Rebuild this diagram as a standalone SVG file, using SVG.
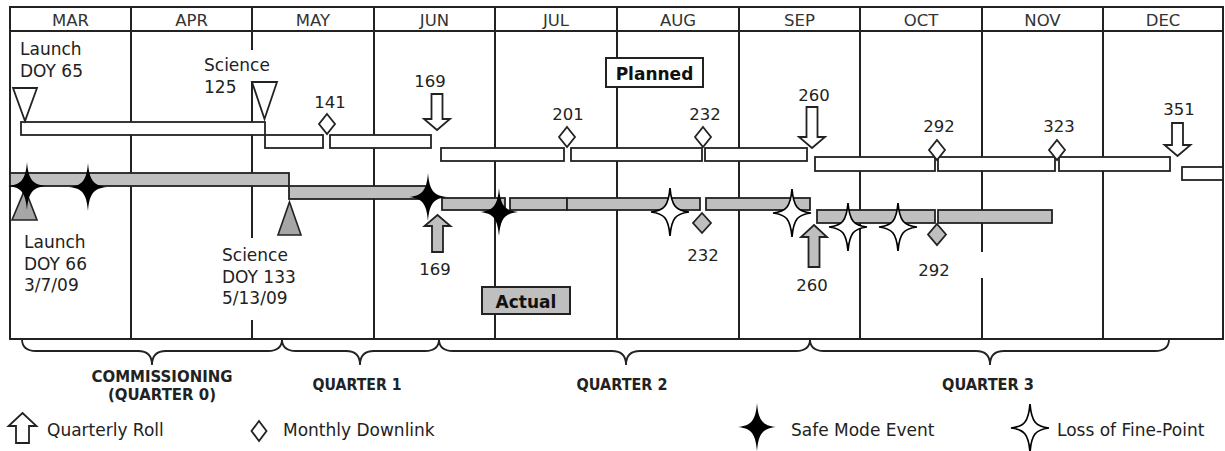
<svg xmlns="http://www.w3.org/2000/svg" width="1225" height="451" viewBox="0 0 1225 451">
<defs>
<style>
text{font-family:"DejaVu Sans",Verdana,sans-serif;fill:#222}
.m{font-size:16.5px;text-anchor:middle;fill:#333}
.t{font-size:17px}
.n{font-size:16.5px;text-anchor:middle}
.b{font-weight:bold;font-size:17px;text-anchor:middle;fill:#111}
.q{font-weight:bold;font-size:16px;text-anchor:middle;fill:#222}
.grid{stroke:#222;stroke-width:2;fill:none}
.pb{fill:#fff;stroke:#222;stroke-width:1.8}
.ab{fill:#bfbfbf;stroke:#222;stroke-width:1.8}
.tri{fill:#a6a6a6;stroke:#222;stroke-width:1.6}
.ptri{fill:#fff;stroke:#222;stroke-width:1.8}
.brace{fill:none;stroke:#222;stroke-width:1.8}
.blk{fill:#000}
.wht{fill:#fff;stroke:#000;stroke-width:1.7}
</style>
<path id="star" d="M0,-24 C1.5,-6 6,-1.5 19,0 C6,1.5 1.5,6 0,24 C-1.5,6 -6,1.5 -19,0 C-6,-1.5 -1.5,-6 0,-24Z"/>
</defs>
<rect width="1225" height="451" fill="#fff"/>

<g id="grid" class="grid">
<rect x="10" y="7" width="1213" height="332"/>
<line x1="10" y1="31" x2="1223" y2="31"/>
<line x1="131" y1="7" x2="131" y2="339"/>
<line x1="252" y1="7" x2="252" y2="50"/>
<line x1="252" y1="82" x2="252" y2="238"/>
<line x1="252" y1="320" x2="252" y2="339"/>
<line x1="374" y1="7" x2="374" y2="339"/>
<line x1="495" y1="7" x2="495" y2="339"/>
<line x1="617" y1="7" x2="617" y2="339"/>
<line x1="739" y1="7" x2="739" y2="339"/>
<line x1="860" y1="7" x2="860" y2="339"/>
<line x1="982" y1="7" x2="982" y2="252"/>
<line x1="982" y1="278" x2="982" y2="339"/>
<line x1="1103" y1="7" x2="1103" y2="339"/>
</g>

<g id="months">
<text class="m" x="70.5" y="26">MAR</text>
<text class="m" x="191.5" y="26">APR</text>
<text class="m" x="313" y="26">MAY</text>
<text class="m" x="434.5" y="26">JUN</text>
<text class="m" x="556" y="26">JUL</text>
<text class="m" x="678" y="26">AUG</text>
<text class="m" x="799.5" y="26">SEP</text>
<text class="m" x="921" y="26">OCT</text>
<text class="m" x="1042.5" y="26">NOV</text>
<text class="m" x="1163" y="26">DEC</text>
</g>

<g id="planned-bars">
<rect class="pb" x="21" y="122" width="244" height="13"/>
<rect class="pb" x="265" y="135" width="58" height="13"/>
<rect class="pb" x="330" y="135" width="101" height="13"/>
<rect class="pb" x="441" y="148" width="123" height="13"/>
<rect class="pb" x="571" y="148" width="131" height="13"/>
<rect class="pb" x="705" y="148" width="102" height="13"/>
<rect class="pb" x="815" y="157" width="120" height="14"/>
<rect class="pb" x="938" y="157" width="117" height="14"/>
<rect class="pb" x="1059" y="157" width="111" height="14"/>
<rect class="pb" x="1182" y="167" width="41" height="13"/>
</g>

<g id="planned-launch">
<polygon class="ptri" points="13,88 37,88 25,121"/>
<text class="t" x="20" y="55">Launch</text>
<text class="t" x="20" y="77">DOY 65</text>
</g>
<g id="planned-science">
<polygon class="ptri" points="252,82 277,82 264.5,119"/>
<text class="t" x="204" y="71">Science</text>
<text class="t" x="204" y="93">125</text>
</g>

<g id="planned-downlinks">
<polygon class="ptri" points="327,114 335,124 327,134 319,124"/>
<text class="n" x="330" y="108">141</text>
<polygon class="ptri" points="567,127 575,137 567,147 559,137"/>
<text class="n" x="568" y="120">201</text>
<polygon class="ptri" points="703,127 711,137 703,147 695,137"/>
<text class="n" x="705" y="120">232</text>
<polygon class="ptri" points="937,140 945,150 937,160 929,150"/>
<text class="n" x="939" y="132">292</text>
<polygon class="ptri" points="1057,140 1065,150 1057,160 1049,150"/>
<text class="n" x="1059" y="132">323</text>
</g>

<g id="planned-rolls">
<polygon class="ptri" points="431.5,94 442.5,94 442.5,119 450,119 437,130 424,119 431.5,119"/>
<text class="n" x="430" y="87">169</text>
<polygon class="ptri" points="806.5,107 817.5,107 817.5,137 825,137 812,148 799,137 806.5,137"/>
<text class="n" x="814" y="101">260</text>
<polygon class="ptri" points="1172,123 1183,123 1183,145 1190.5,145 1177.5,156 1164.5,145 1172,145"/>
<text class="n" x="1179" y="115">351</text>
</g>

<g id="planned-label">
<rect x="606" y="58" width="97" height="29" fill="#fff" stroke="#222" stroke-width="2"/>
<text class="b" x="654.5" y="80">Planned</text>
</g>

<g id="actual-bars">
<rect class="ab" x="10" y="173" width="279" height="13"/>
<rect class="ab" x="289" y="186" width="139" height="13"/>
<rect class="ab" x="442" y="198" width="63" height="12"/>
<rect class="ab" x="510" y="198" width="57" height="12"/>
<rect class="ab" x="567" y="198" width="133" height="12"/>
<rect class="ab" x="706" y="198" width="104" height="12"/>
<rect class="ab" x="817" y="210" width="118" height="13"/>
<rect class="ab" x="938" y="210" width="114" height="13"/>
</g>

<g id="actual-launch">
<polygon class="tri" points="25,189 37,220 12,220"/>
<text class="t" x="24" y="248">Launch</text>
<text class="t" x="24" y="270">DOY 66</text>
<text class="t" x="24" y="291">3/7/09</text>
</g>
<g id="actual-science">
<polygon class="tri" points="289.5,202 301,235 278,235"/>
<text class="t" x="222" y="261">Science</text>
<text class="t" x="222" y="283">DOY 133</text>
<text class="t" x="222" y="304">5/13/09</text>
</g>

<g id="actual-rolls">
<polygon class="ab" points="437.5,215 450.5,226 443,226 443,252 432,252 432,226 424.5,226"/>
<text class="n" x="435" y="275">169</text>
<polygon class="ab" points="814,225 827,237 819.5,237 819.5,267 808.5,267 808.5,237 801,237"/>
<text class="n" x="812" y="291">260</text>
</g>

<g id="actual-downlinks">
<polygon class="ab" points="702,213 711,223 702,233 693,223"/>
<text class="n" x="703" y="261">232</text>
<polygon class="ab" points="937,224 946,234.5 937,245 928,234.5"/>
<text class="n" x="934" y="276">292</text>
</g>

<g id="safe-mode-events">
<use href="#star" class="blk" x="27" y="186"/>
<use href="#star" class="blk" x="88" y="187"/>
<use href="#star" class="blk" x="428" y="197"/>
<use href="#star" class="blk" x="499" y="212"/>
</g>
<g id="fine-point-losses">
<use href="#star" class="wht" x="670" y="212"/>
<use href="#star" class="wht" x="792" y="213"/>
<use href="#star" class="wht" x="848" y="227"/>
<use href="#star" class="wht" x="898" y="227"/>
</g>

<g id="actual-label">
<rect x="482" y="287" width="88" height="27" fill="#bfbfbf" stroke="#222" stroke-width="2"/>
<text class="b" x="526" y="308">Actual</text>
</g>

<g id="braces" class="brace">
<path d="M22,339 Q22,351 36,351 L138,351 Q152,351 152,365 Q152,351 166,351 L268,351 Q282,351 282,339"/>
<path d="M282,339 Q282,351 296,351 L346,351 Q360,351 360,365 Q360,351 374,351 L425,351 Q439,351 439,339"/>
<path d="M439,339 Q439,351 453,351 L612,351 Q626,351 626,365 Q626,351 640,351 L796,351 Q810,351 810,339"/>
<path d="M810,339 Q810,351 824,351 L976,351 Q990,351 990,365 Q990,351 1004,351 L1155,351 Q1169,351 1169,339"/>
</g>

<g id="quarters">
<text class="q" x="162" y="382" textLength="141" lengthAdjust="spacingAndGlyphs">COMMISSIONING</text>
<text class="q" x="162" y="400" textLength="108" lengthAdjust="spacingAndGlyphs">(QUARTER 0)</text>
<text class="q" x="357" y="390" textLength="89" lengthAdjust="spacingAndGlyphs">QUARTER 1</text>
<text class="q" x="622" y="390" textLength="91" lengthAdjust="spacingAndGlyphs">QUARTER 2</text>
<text class="q" x="988" y="390" textLength="92" lengthAdjust="spacingAndGlyphs">QUARTER 3</text>
</g>

<g id="legend">
<g id="legend-roll">
<polygon class="ptri" points="22.5,413 36.5,426 29,426 29,443 16,443 16,426 8.5,426"/>
<text class="t" x="47" y="436">Quarterly Roll</text>
</g>
<g id="legend-downlink">
<polygon class="ptri" points="259,421 266.5,431 259,441 251.5,431"/>
<text class="t" x="283" y="436">Monthly Downlink</text>
</g>
<g id="legend-safe">
<use href="#star" class="blk" x="757" y="427"/>
<text class="t" x="791" y="436">Safe Mode Event</text>
</g>
<g id="legend-finepoint">
<use href="#star" class="wht" x="1030" y="428"/>
<text class="t" x="1057" y="436">Loss of Fine-Point</text>
</g>
</g>
</svg>
